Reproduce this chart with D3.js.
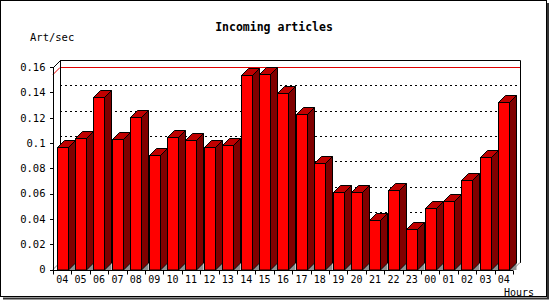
<!DOCTYPE html>
<html>
<head>
<meta charset="utf-8">
<script src="https://cdn.jsdelivr.net/npm/d3@7"></script>
<style>
  body { margin: 0; background: #fff; }
  text { font-family: "DejaVu Sans Mono", monospace; fill: #000; }
</style>
</head>
<body>
<div id="chart-area"></div>
<script>
// data
const hours = ['04', '05', '06', '07', '08', '09', '10', '11', '12', '13', '14', '15', '16',
  '17', '18', '19', '20', '21', '22', '23', '00', '01', '02', '03', '04 '];
const artPerSec = [0.0966, 0.1037, 0.136, 0.1029, 0.1203, 0.0905, 0.1045, 0.1021, 0.0968,
  0.0981, 0.1537, 0.1545, 0.1395, 0.1229, 0.0839, 0.061, 0.061, 0.0389, 0.0626, 0.0318,
  0.0484, 0.0539, 0.0705, 0.0887, 0.1324];
const yTicks = [0, 0.02, 0.04, 0.06, 0.08, 0.1, 0.12, 0.14, 0.16];

const widthSvg = 550;
const heightSvg = 300;
const depth = 7; // 3d offset

const scaleX = d3.scaleBand()
  .domain(hours)
  .range([53, 513]);

const scaleY = d3.scaleLinear()
  .domain([0, 0.16])
  .range([269.5, 67]);

const svg = d3.select('#chart-area')
  .append('svg')
    .attr('width', widthSvg)
    .attr('height', heightSvg);

// outer frame with shadow
svg.append('rect')
  .attr('x', 0.5).attr('y', 0.5)
  .attr('width', 546).attr('height', 296)
  .attr('fill', '#fff')
  .attr('stroke', '#000');
svg.append('path')
  .attr('d', 'M548,3V298.5H3')
  .attr('fill', 'none')
  .attr('stroke', '#333')
  .attr('stroke-width', 2);

const x0 = scaleX.range()[0];
const x1 = scaleX.range()[1];
const yTop = scaleY(0.16);
const yZero = scaleY(0);

// back plane grid
svg.append('g')
  .selectAll('line')
  .data(yTicks.filter(d => d > 0 && d < 0.16))
  .join('line')
    .attr('x1', x0 + depth)
    .attr('x2', x1 + depth)
    .attr('y1', d => Math.round(scaleY(d) - depth) + 0.5)
    .attr('y2', d => Math.round(scaleY(d) - depth) + 0.5)
    .attr('stroke', '#000')
    .attr('stroke-dasharray', '2,3')
    .attr('shape-rendering', 'crispEdges');

// max line
const maxV = d3.max(artPerSec);
const yMax = Math.round(scaleY(maxV)) + 0.5;
svg.append('path')
  .attr('d', `M${x0},${yMax}L${x0 + depth},${yMax - depth}H${x1 + depth}`)
  .attr('fill', 'none')
  .attr('stroke', '#e00000');

// frame of back plane and walls
svg.append('path')
  .attr('d', `M${x0 + 0.5},${Math.round(yTop) + 0.5}L${x0 + depth + 0.5},${Math.round(yTop) - depth + 0.5}` +
    `H${x1 + depth + 0.5}V${Math.round(yZero) - depth}`)
  .attr('fill', 'none')
  .attr('stroke', '#000');
svg.append('line')
  .attr('x1', x0 + depth + 0.5).attr('x2', x0 + depth + 0.5)
  .attr('y1', Math.round(yTop) - depth).attr('y2', yZero - depth)
  .attr('stroke', '#000');
svg.append('path')
  .attr('d', `M${x0},${yZero}L${x0 + depth},${yZero - depth}M${x1},${yZero}L${x1 + depth},${yZero - depth}`)
  .attr('stroke', '#888');

// bars
const barW = scaleX.bandwidth() * 0.6;
const barOff = scaleX.bandwidth() * 0.2;
const bars = svg.append('g')
  .selectAll('g')
  .data(hours.map((h, i) => ({ h, v: artPerSec[i] })))
  .join('g');

bars.each(function (d) {
  const g = d3.select(this);
  const xl = Math.round(scaleX(d.h) + barOff) + 0.5;
  const xr = xl + Math.round(barW);
  const yt = Math.round(scaleY(d.v)) + 0.5;
  const yb = Math.round(yZero);
  // floor shadow
  g.append('path')
    .attr('d', `M${xr},${yb}L${xr + depth},${yb - depth}V${yb}Z`)
    .attr('fill', '#909090');
  // side
  g.append('path')
    .attr('d', `M${xr},${yt}L${xr + depth},${yt - depth}V${yb - depth}L${xr},${yb}Z`)
    .attr('fill', '#800000')
    .attr('stroke', '#000');
  // top
  g.append('path')
    .attr('d', `M${xl},${yt}L${xl + depth},${yt - depth}H${xr + depth}L${xr},${yt}Z`)
    .attr('fill', '#c00000')
    .attr('stroke', '#000');
  // front
  g.append('rect')
    .attr('x', xl).attr('y', yt)
    .attr('width', xr - xl).attr('height', yb - yt)
    .attr('fill', '#ff0000')
    .attr('stroke', '#000');
});

// axes
const axisY = d3.axisLeft(scaleY)
  .tickValues(yTicks)
  .tickFormat(d => d === 0 ? '0' : String(+d.toFixed(2)))
  .tickSize(4)
  .tickPadding(4);

const groupAxisY = svg.append('g')
  .attr('transform', `translate(${x0 + 0.5}, 0)`)
  .call(axisY);
groupAxisY.select('.domain').attr('d', `M0,${yTop}V${yZero}`);

const axisX = d3.axisBottom(scaleX)
  .tickSize(0)
  .tickPadding(5)
  .tickFormat(d => d.trim());

const groupAxisX = svg.append('g')
  .attr('transform', `translate(0, ${Math.round(yZero) + 0.5})`)
  .call(axisX);
groupAxisX.select('.domain').attr('d', `M${x0},0H${x1}`);

// x ticks at band boundaries
groupAxisX.append('g')
  .selectAll('line')
  .data(d3.range(hours.length + 1))
  .join('line')
    .attr('x1', i => Math.round(x0 + i * scaleX.step()) + 0.5)
    .attr('x2', i => Math.round(x0 + i * scaleX.step()) + 0.5)
    .attr('y1', 0).attr('y2', 4)
    .attr('stroke', '#000');

groupAxisY.selectAll('.tick text')
  .attr('font-size', 10.5);
groupAxisX.selectAll('.tick text')
  .attr('font-size', 10);
svg.selectAll('.tick text')
  .attr('font-family', '"DejaVu Sans Mono", monospace')
  .attr('fill', '#000');
svg.selectAll('.tick line, .domain').attr('shape-rendering', 'crispEdges');

// titles
svg.append('text')
  .attr('x', 274).attr('y', 31)
  .attr('text-anchor', 'middle')
  .attr('font-size', 11.5)
  .attr('font-weight', 'bold')
  .text('Incoming articles');

svg.append('text')
  .attr('x', 30).attr('y', 41)
  .attr('font-size', 10.5)
  .text('Art/sec');

svg.append('text')
  .attr('x', 534).attr('y', 295.5)
  .attr('text-anchor', 'end')
  .attr('font-size', 10)
  .text('Hours');
</script>
</body>
</html>
